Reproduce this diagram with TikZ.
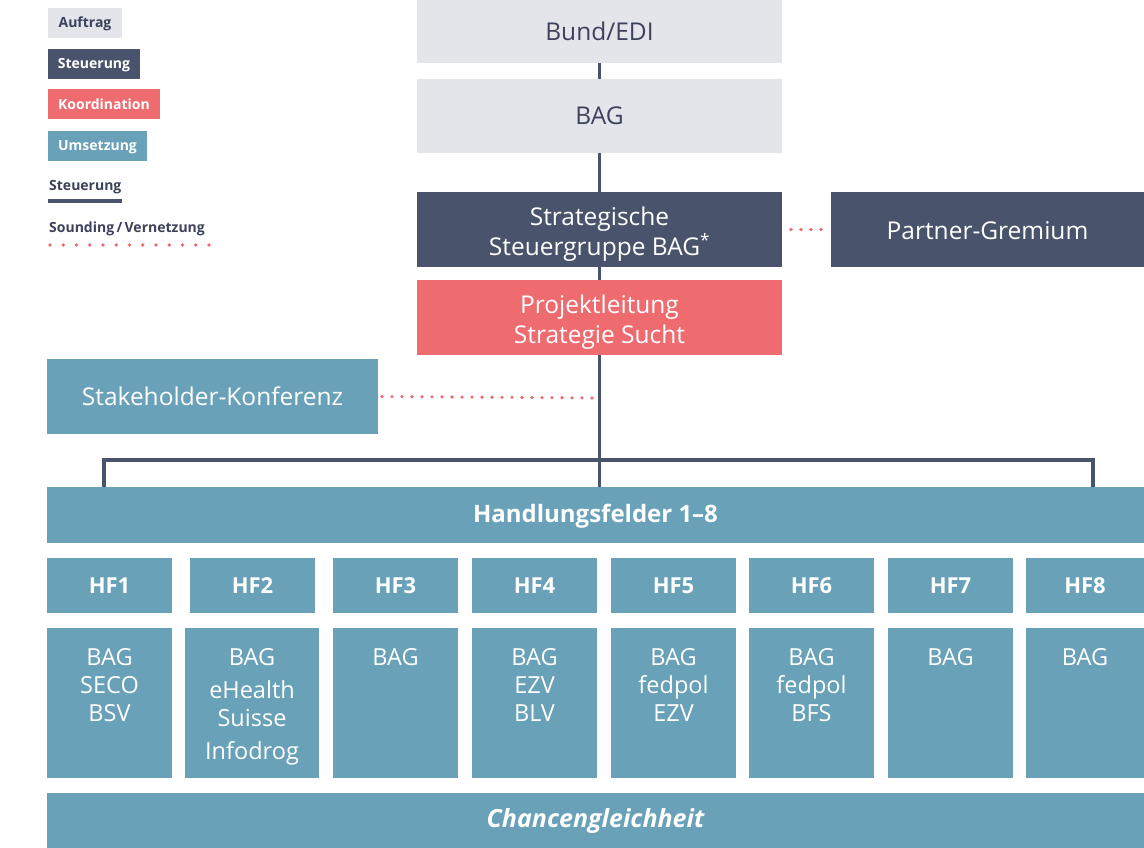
\documentclass[tikz,border=0pt]{standalone}
\usepackage{fontspec}
\setmainfont{Open Sans}
\definecolor{cgrey}{HTML}{E4E4EB}
\definecolor{cnavy}{HTML}{4A536C}
\definecolor{cred}{HTML}{EE6C70}
\definecolor{cteal}{HTML}{68A1B8}
\definecolor{ctext}{HTML}{3B4259}
\newcommand{\downstrut}{\rule{0pt}{28pt}}
\begin{document}
\begin{tikzpicture}[x=1pt,y=-1pt,
  box/.style={inner sep=0pt, outer sep=0pt, anchor=north west, align=center, font=\fontsize{24.5}{30}\selectfont},
  wh/.style 2 args={minimum width=#1pt, minimum height=#2pt},
  greybox/.style={box, fill=cgrey, text=ctext},
  navybox/.style={box, fill=cnavy, text=white},
  redbox/.style={box, fill=cred, text=white},
  tealbox/.style={box, fill=cteal, text=white},
  legbox/.style={inner sep=0pt, outer sep=0pt, anchor=north west, font=\fontsize{14}{16}\bfseries\selectfont},
  legtext/.style={inner sep=0pt, anchor=base west, text=ctext, font=\fontsize{14}{16}\bfseries\selectfont},
  trunk/.style={draw=cnavy, line width=3.8pt},
  dots/.style={draw=cred, line width=3.6pt, line cap=round, dash pattern=on 0pt off 10pt},
  hflabel/.style={tealbox, font=\fontsize{22}{24}\bfseries\selectfont},
  hftext/.style={inner sep=0pt, anchor=north, align=center, text=white, font=\fontsize{23.5}{28}\selectfont}
]
\useasboundingbox (0,0) rectangle (1144,848);

% legend
\node[legbox, fill=cgrey, text=ctext, wh={74}{30}] (lAuf) at (48,8) {\rule{0pt}{12pt}Auftrag};
\node[legbox, fill=cnavy, text=white, wh={92}{30}] (lSteu) at (48,49) {\rule{0pt}{12pt}Steuerung};
\node[legbox, fill=cred, text=white, wh={112}{30}] (lKoo) at (48,89) {\rule{0pt}{12pt}Koordination};
\node[legbox, fill=cteal, text=white, wh={99}{30}] (lUms) at (48,131) {\rule{0pt}{12pt}Umsetzung};
\node[legtext] (lLine) at (49,190) {Steuerung};
\coordinate (lLa) at (48,201);
\coordinate (lLb) at (122,201);
\draw[trunk] (lLa) -- (lLb);
\node[legtext] (lDot) at (49,233) {Sounding\,/\,Vernetzung};
\coordinate (lDa) at (50,245);
\coordinate (lDb) at (212,245);
\draw[dots, dash pattern=on 0pt off 13.25pt] (lDa) -- (lDb);

% main boxes
\node[greybox, wh={365}{63}] (bund) at (417,0) {Bund/EDI};
\node[greybox, wh={365}{74}] (bag) at (417,79) {BAG};
\node[navybox, wh={365}{75}] (ssg) at (417,192) {\downstrut Strategische\\Steuergruppe BAG\textsuperscript{*}};
\node[navybox, wh={313}{75}] (partner) at (831,192) {\rule{0pt}{21pt}Partner-Gremium};
\node[redbox, wh={365}{75}] (pl) at (417,280) {\downstrut Projektleitung\\Strategie Sucht};
\node[tealbox, wh={331}{75}] (stake) at (47,359) {Stakeholder-Konferenz};
\node[tealbox, wh={1097}{56}, font=\fontsize{24}{29}\bfseries\selectfont] (hf) at (47,487) {\rule{0pt}{20pt}Handlungsfelder 1–8};

% connectors
\draw[trunk] (bund.south) -- (bag.north);
\draw[trunk] (bag.south) -- (ssg.north);
\draw[trunk] (ssg.south) -- (pl.north);
\draw[trunk] (pl.south) -- (pl.south |- hf.north);
\coordinate (hfL) at (104,487);
\coordinate (hfR) at (1093,487);
\coordinate (brk) at (599,460);
\draw[trunk, line join=miter] (hfL) |- (brk) -| (hfR);
\coordinate (sk) at (599,398);
\draw[dots, shorten <=9pt, shorten >=9pt] (ssg.east) -- (partner.west);
\draw[dots, shorten <=4pt] (stake.east) -- (sk);

% HF labels
\node[hflabel, wh={125}{55}] (h1) at (47,558) {HF1};
\node[hflabel, wh={125}{55}] (h2) at (190,558) {HF2};
\node[hflabel, wh={125}{55}] (h3) at (333,558) {HF3};
\node[hflabel, wh={125}{55}] (h4) at (472,558) {HF4};
\node[hflabel, wh={125}{55}] (h5) at (611,558) {HF5};
\node[hflabel, wh={125}{55}] (h6) at (749,558) {HF6};
\node[hflabel, wh={125}{55}] (h7) at (888,558) {HF7};
\node[hflabel, wh={118}{55}] (h8) at (1026,558) {HF8};

% HF lower boxes
\node[tealbox, wh={125}{150}] (b1) at (47,628) {};
\node[tealbox, wh={134}{150}] (b2) at (185,628) {};
\node[tealbox, wh={125}{150}] (b3) at (333,628) {};
\node[tealbox, wh={125}{150}] (b4) at (472,628) {};
\node[tealbox, wh={125}{150}] (b5) at (611,628) {};
\node[tealbox, wh={125}{150}] (b6) at (749,628) {};
\node[tealbox, wh={125}{150}] (b7) at (888,628) {};
\node[tealbox, wh={118}{150}] (b8) at (1026,628) {};

\node[hftext] (t1) at ([yshift=-20pt]b1.north) {BAG\\SECO\\BSV};
\node[hftext] (t2) at ([yshift=-20pt]b2.north) {BAG\\[5pt]eHealth\\Suisse\\[5pt]Infodrog};
\node[hftext] (t3) at ([yshift=-20pt]b3.north) {BAG};
\node[hftext] (t4) at ([yshift=-20pt]b4.north) {BAG\\EZV\\BLV};
\node[hftext] (t5) at ([yshift=-20pt]b5.north) {BAG\\fedpol\\EZV};
\node[hftext] (t6) at ([yshift=-20pt]b6.north) {BAG\\fedpol\\BFS};
\node[hftext] (t7) at ([yshift=-20pt]b7.north) {BAG};
\node[hftext] (t8) at ([yshift=-20pt]b8.north) {BAG};

\node[tealbox, wh={1097}{55}, font=\fontsize{25}{29}\bfseries\itshape\selectfont] (cg) at (47,793) {\rule{0pt}{20pt}Chancengleichheit};
\end{tikzpicture}
\end{document}
